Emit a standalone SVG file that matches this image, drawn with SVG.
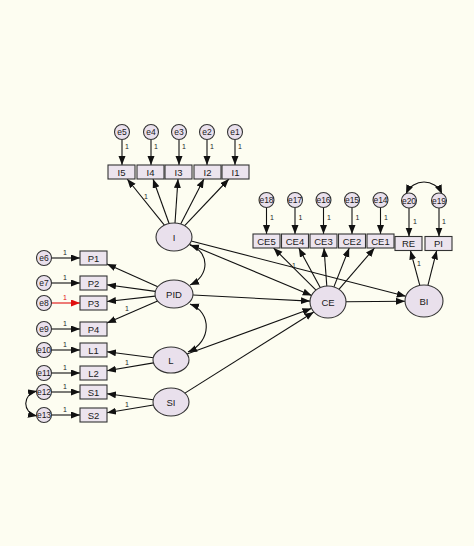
<svg xmlns="http://www.w3.org/2000/svg" width="474" height="546" viewBox="0 0 474 546">
<defs>
<marker id="ah" markerUnits="userSpaceOnUse" markerWidth="10" markerHeight="8" refX="9" refY="3.5" orient="auto-start-reverse"><path d="M0,0 L9,3.5 L0,7 z" fill="#111"/></marker>
<marker id="ahr" markerUnits="userSpaceOnUse" markerWidth="10" markerHeight="8" refX="9" refY="3.5" orient="auto"><path d="M0,0 L9,3.5 L0,7 z" fill="#e01010"/></marker>
<style>
.lat{fill:#e9e0ec;stroke:#333;stroke-width:1.1}
.box{fill:#ece4ee;stroke:#333;stroke-width:1.1}
.err{fill:#e9e0ec;stroke:#333;stroke-width:1.1}
.t{font-family:"Liberation Sans",Arial,sans-serif;font-size:9.5px;fill:#1a1a1a;text-anchor:middle;dominant-baseline:central}
.te{font-family:"Liberation Sans",Arial,sans-serif;font-size:8.5px;fill:#1a1a1a;text-anchor:middle;dominant-baseline:central}
.one{font-family:"Liberation Sans",Arial,sans-serif;font-size:7px;fill:#222;text-anchor:middle}
.c{stroke:#111;stroke-width:1.1;fill:none;marker-end:url(#ah)}
.cv{stroke:#111;stroke-width:1.1;fill:none;marker-start:url(#ah);marker-end:url(#ah)}
</style>
</defs>
<rect x="0" y="0" width="474" height="546" fill="#fdfdf1"/>

<g id="connectors">
<line class="c" x1="122" y1="140" x2="122" y2="165"/>
<line class="c" x1="151" y1="140" x2="151" y2="165"/>
<line class="c" x1="179" y1="140" x2="179" y2="165"/>
<line class="c" x1="207" y1="140" x2="207" y2="165"/>
<line class="c" x1="235" y1="140" x2="235" y2="165"/>
<line class="c" x1="266.5" y1="208" x2="266.5" y2="234"/>
<line class="c" x1="295" y1="208" x2="295" y2="234"/>
<line class="c" x1="323.5" y1="208" x2="323.5" y2="234"/>
<line class="c" x1="352" y1="208" x2="352" y2="234"/>
<line class="c" x1="380.5" y1="208" x2="380.5" y2="234"/>
<line class="c" x1="409" y1="208" x2="409" y2="236.5"/>
<line class="c" x1="439" y1="208" x2="439" y2="236.5"/>
<line class="c" x1="52" y1="258" x2="80" y2="258"/>
<line class="c" x1="52" y1="283" x2="80" y2="283"/>
<line x1="52" y1="303" x2="80" y2="303" stroke="#e01010" stroke-width="1.1" marker-end="url(#ahr)"/>
<line class="c" x1="52" y1="329" x2="80" y2="329"/>
<line class="c" x1="52" y1="350" x2="80" y2="350"/>
<line class="c" x1="52" y1="373" x2="80" y2="373"/>
<line class="c" x1="52" y1="392" x2="80" y2="392"/>
<line class="c" x1="52" y1="415" x2="80" y2="415"/>
<line class="c" x1="164.4" y1="225.1" x2="127.2" y2="179"/>
<line class="c" x1="169.1" y1="223.5" x2="153" y2="179"/>
<line class="c" x1="175" y1="223" x2="178" y2="179"/>
<line class="c" x1="180.7" y1="224" x2="203.9" y2="179"/>
<line class="c" x1="184.7" y1="225.7" x2="228.9" y2="179"/>
<line class="c" x1="157.8" y1="286.7" x2="107" y2="264"/>
<line class="c" x1="155.3" y1="291.4" x2="107" y2="284.8"/>
<line class="c" x1="155.2" y1="296.1" x2="107" y2="301.5"/>
<line class="c" x1="157.6" y1="301.1" x2="107" y2="323.1"/>
<line class="c" x1="153.3" y1="357.7" x2="107" y2="351.7"/>
<line class="c" x1="153.5" y1="362.9" x2="107" y2="370.7"/>
<line class="c" x1="153.2" y1="399.7" x2="107" y2="393.7"/>
<line class="c" x1="153.4" y1="405" x2="107" y2="412.7"/>
<line class="c" x1="316" y1="290.1" x2="273.6" y2="248"/>
<line class="c" x1="320.2" y1="287.6" x2="298.8" y2="248"/>
<line class="c" x1="326.8" y1="286" x2="324" y2="248"/>
<line class="c" x1="333.9" y1="286.9" x2="349.2" y2="248"/>
<line class="c" x1="338.9" y1="289.3" x2="374.5" y2="248"/>
<line class="c" x1="419.8" y1="285.4" x2="410.4" y2="250.5"/>
<line class="c" x1="427.9" y1="285.4" x2="436.7" y2="250.5"/>
<line class="c" x1="189.8" y1="244.5" x2="311.7" y2="295.5"/>
<line class="c" x1="191.1" y1="241" x2="405.8" y2="296.3"/>
<line class="c" x1="193" y1="295" x2="310" y2="301.1"/>
<line class="c" x1="187" y1="354.1" x2="311.4" y2="308.5"/>
<line class="c" x1="184.9" y1="393.1" x2="313.8" y2="312"/>
<line class="c" x1="346" y1="301.8" x2="405" y2="301.2"/>
<path class="cv" d="M190,245 C210,252 210,276 190,285"/>
<path class="cv" d="M190,304 C212,312 212,342 188,352"/>
<path class="cv" d="M37,391 C22,394 22,413 37,416"/>
<path class="cv" d="M406,194 C413,178 435,178 442,194"/>
</g>

<g id="labels-one">
<text class="one" x="127" y="149">1</text>
<text class="one" x="156" y="149">1</text>
<text class="one" x="184" y="149">1</text>
<text class="one" x="212" y="149">1</text>
<text class="one" x="240" y="149">1</text>
<text class="one" x="272" y="220">1</text>
<text class="one" x="300.5" y="220">1</text>
<text class="one" x="329" y="220">1</text>
<text class="one" x="357.5" y="220">1</text>
<text class="one" x="386" y="220">1</text>
<text class="one" x="415" y="224">1</text>
<text class="one" x="444" y="224">1</text>
<text class="one" x="65" y="255">1</text>
<text class="one" x="65" y="280">1</text>
<text class="one" x="65" y="300" style="fill:#e01010">1</text>
<text class="one" x="65" y="326">1</text>
<text class="one" x="65" y="347">1</text>
<text class="one" x="65" y="370">1</text>
<text class="one" x="65" y="389">1</text>
<text class="one" x="65" y="412">1</text>
<text class="one" x="146" y="199">1</text>
<text class="one" x="127" y="311">1</text>
<text class="one" x="127" y="365">1</text>
<text class="one" x="127" y="407">1</text>
<text class="one" x="294" y="268">1</text>
<text class="one" x="419" y="266">1</text>
</g>

<g id="e5"><circle class="err" cx="122" cy="132" r="7.5"/><text class="te" x="122" y="132">e5</text></g>
<g id="e4"><circle class="err" cx="151" cy="132" r="7.5"/><text class="te" x="151" y="132">e4</text></g>
<g id="e3"><circle class="err" cx="179" cy="132" r="7.5"/><text class="te" x="179" y="132">e3</text></g>
<g id="e2"><circle class="err" cx="207" cy="132" r="7.5"/><text class="te" x="207" y="132">e2</text></g>
<g id="e1"><circle class="err" cx="235" cy="132" r="7.5"/><text class="te" x="235" y="132">e1</text></g>

<g id="I5"><rect class="box" x="108" y="165" width="27" height="14"/><text class="t" x="121.5" y="172">I5</text></g>
<g id="I4"><rect class="box" x="137" y="165" width="27" height="14"/><text class="t" x="150.5" y="172">I4</text></g>
<g id="I3"><rect class="box" x="165" y="165" width="27" height="14"/><text class="t" x="178.5" y="172">I3</text></g>
<g id="I2"><rect class="box" x="194" y="165" width="27" height="14"/><text class="t" x="207.5" y="172">I2</text></g>
<g id="I1"><rect class="box" x="222" y="165" width="27" height="14"/><text class="t" x="235.5" y="172">I1</text></g>

<g id="e18"><circle class="err" cx="266.5" cy="200" r="7.5"/><text class="te" x="266.5" y="200">e18</text></g>
<g id="e17"><circle class="err" cx="295" cy="200" r="7.5"/><text class="te" x="295" y="200">e17</text></g>
<g id="e16"><circle class="err" cx="323.5" cy="200" r="7.5"/><text class="te" x="323.5" y="200">e16</text></g>
<g id="e15"><circle class="err" cx="352" cy="200" r="7.5"/><text class="te" x="352" y="200">e15</text></g>
<g id="e14"><circle class="err" cx="380.5" cy="200" r="7.5"/><text class="te" x="380.5" y="200">e14</text></g>
<g id="e20"><circle class="err" cx="409" cy="200.5" r="7.5"/><text class="te" x="409" y="200.5">e20</text></g>
<g id="e19"><circle class="err" cx="439" cy="200.5" r="7.5"/><text class="te" x="439" y="200.5">e19</text></g>

<g id="CE5"><rect class="box" x="253" y="234" width="27" height="14"/><text class="t" x="266.5" y="241">CE5</text></g>
<g id="CE4"><rect class="box" x="281.5" y="234" width="27" height="14"/><text class="t" x="295" y="241">CE4</text></g>
<g id="CE3"><rect class="box" x="310" y="234" width="27" height="14"/><text class="t" x="323.5" y="241">CE3</text></g>
<g id="CE2"><rect class="box" x="338.5" y="234" width="27" height="14"/><text class="t" x="352" y="241">CE2</text></g>
<g id="CE1"><rect class="box" x="367" y="234" width="27" height="14"/><text class="t" x="380.5" y="241">CE1</text></g>
<g id="RE"><rect class="box" x="395" y="236.5" width="27" height="14"/><text class="t" x="408.5" y="243.5">RE</text></g>
<g id="PI"><rect class="box" x="425" y="236.5" width="27" height="14"/><text class="t" x="438.5" y="243.5">PI</text></g>

<g id="e6"><circle class="err" cx="44" cy="258" r="7.5"/><text class="te" x="44" y="258">e6</text></g>
<g id="e7"><circle class="err" cx="44" cy="283" r="7.5"/><text class="te" x="44" y="283">e7</text></g>
<g id="e8"><circle class="err" cx="44" cy="303" r="7.5"/><text class="te" x="44" y="303">e8</text></g>
<g id="e9"><circle class="err" cx="44" cy="329" r="7.5"/><text class="te" x="44" y="329">e9</text></g>
<g id="e10"><circle class="err" cx="44" cy="350" r="7.5"/><text class="te" x="44" y="350">e10</text></g>
<g id="e11"><circle class="err" cx="44" cy="373" r="7.5"/><text class="te" x="44" y="373">e11</text></g>
<g id="e12"><circle class="err" cx="44" cy="392" r="7.5"/><text class="te" x="44" y="392">e12</text></g>
<g id="e13"><circle class="err" cx="44" cy="415" r="7.5"/><text class="te" x="44" y="415">e13</text></g>

<g id="P1"><rect class="box" x="80" y="251" width="27" height="14"/><text class="t" x="93.5" y="258">P1</text></g>
<g id="P2"><rect class="box" x="80" y="276" width="27" height="14"/><text class="t" x="93.5" y="283">P2</text></g>
<g id="P3"><rect class="box" x="80" y="296" width="27" height="14"/><text class="t" x="93.5" y="303">P3</text></g>
<g id="P4"><rect class="box" x="80" y="322" width="27" height="14"/><text class="t" x="93.5" y="329">P4</text></g>
<g id="L1"><rect class="box" x="80" y="343" width="27" height="14"/><text class="t" x="93.5" y="350">L1</text></g>
<g id="L2"><rect class="box" x="80" y="366" width="27" height="14"/><text class="t" x="93.5" y="373">L2</text></g>
<g id="S1"><rect class="box" x="80" y="385" width="27" height="14"/><text class="t" x="93.5" y="392">S1</text></g>
<g id="S2"><rect class="box" x="80" y="408" width="27" height="14"/><text class="t" x="93.5" y="415">S2</text></g>

<g id="I"><ellipse class="lat" cx="174" cy="237" rx="18" ry="14"/><text class="t" x="174" y="237">I</text></g>
<g id="PID"><ellipse class="lat" cx="174" cy="294" rx="19" ry="14"/><text class="t" x="174" y="294">PID</text></g>
<g id="L"><ellipse class="lat" cx="171" cy="360" rx="18" ry="13"/><text class="t" x="171" y="360">L</text></g>
<g id="SI"><ellipse class="lat" cx="171" cy="402" rx="18" ry="14"/><text class="t" x="171" y="402">SI</text></g>
<g id="CE"><ellipse class="lat" cx="328" cy="302" rx="18" ry="16"/><text class="t" x="328" y="302">CE</text></g>
<g id="BI"><ellipse class="lat" cx="424" cy="301" rx="19" ry="16"/><text class="t" x="424" y="301">BI</text></g>
</svg>
